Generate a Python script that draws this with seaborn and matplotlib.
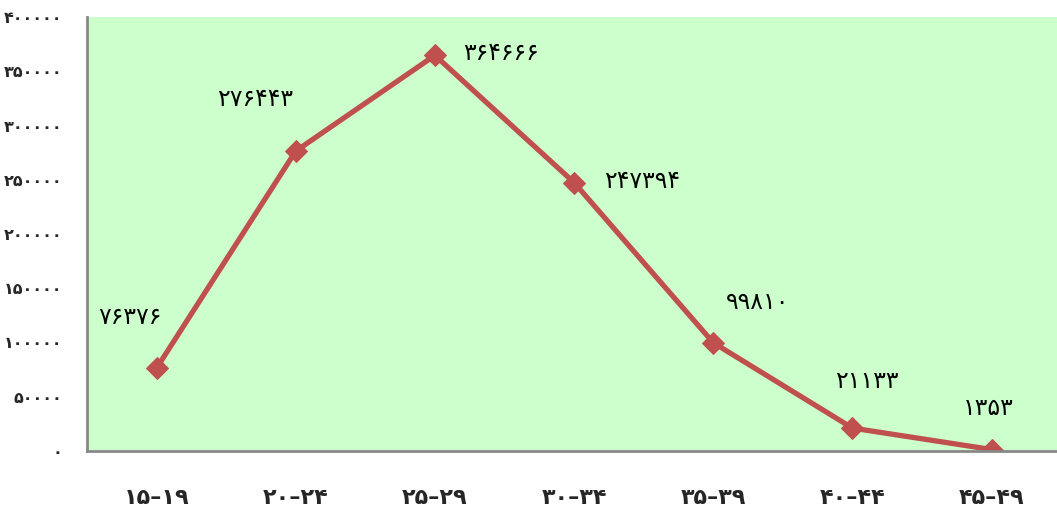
import pandas as pd
import matplotlib
matplotlib.use('Agg')
import matplotlib.pyplot as plt
import seaborn as sns

# Age groups and counts
age_groups = ['۱۵–۱۹', '۲۰–۲۴', '۲۵–۲۹', '۳۰–۳۴', '۳۵–۳۹', '۴۰–۴۴', '۴۵–۴۹']
counts = [76376, 276443, 364666, 247394, 99810, 21133, 1353]
y_ticks = [0, 50000, 100000, 150000, 200000, 250000, 300000, 350000, 400000]

# Offsets (in pixels) of each value label from its marker
label_offsets = [(-27, 51), (-41, 52), (66, 2), (68, 2), (44, 41), (14, 47), (-3, 42)]

persian_digits = str.maketrans('0123456789', '۰۱۲۳۴۵۶۷۸۹')


def to_persian(n):
    return str(n).translate(persian_digits)


df = pd.DataFrame({'group': age_groups, 'count': counts})
df['pos'] = range(len(df))

sns.set_style('white')
plt.rcParams['font.family'] = ['DejaVu Sans']

fig = plt.figure(figsize=(10.57, 5.2), dpi=100)
ax = fig.add_axes([87 / 1057, 1 - 451 / 520, 1 - 87 / 1057, 434 / 520])
ax.set_facecolor('#ccffcc')

sns.lineplot(data=df, x='pos', y='count', ax=ax, color='#c0504d', linewidth=3.8,
             marker='D', markersize=11, markeredgecolor='#c0504d', sort=False)

for i, (x, y) in enumerate(zip(df['pos'], df['count'])):
    dx, dy = label_offsets[i]
    ax.annotate(to_persian(y), (x, y), xytext=(dx, dy), textcoords='offset pixels',
                ha='center', va='center', fontsize=17, color='black')

ax.set_xlim(-0.5, 6.47)
ax.set_ylim(0, 400000)
ax.set_xticks(df['pos'])
ax.set_xticklabels(age_groups, fontsize=16, fontweight='bold')
ax.set_yticks(y_ticks)
ax.set_yticklabels([to_persian(t) for t in y_ticks], fontsize=11.5, fontweight='bold')
ax.tick_params(axis='x', length=0, pad=27)
ax.tick_params(axis='y', length=0, pad=18)
ax.set_xlabel('')
ax.set_ylabel('')

for side in ['top', 'right']:
    ax.spines[side].set_visible(False)
for side in ['left', 'bottom']:
    ax.spines[side].set_color('#888888')
    ax.spines[side].set_linewidth(2)

fig.savefig('out.png', dpi=100)
